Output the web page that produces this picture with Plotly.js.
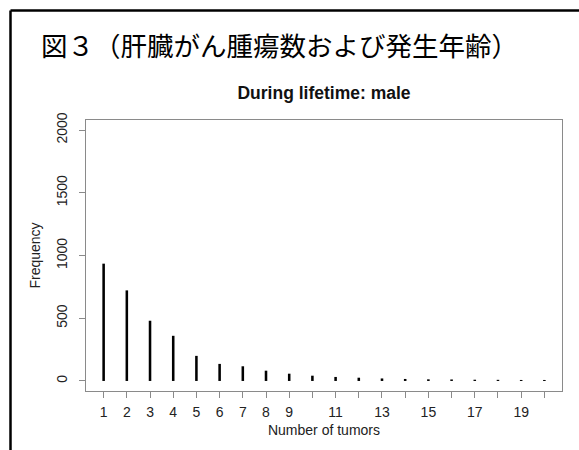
<!DOCTYPE html>
<html>
<head>
<meta charset="utf-8">
<script src="https://cdn.plot.ly/plotly-3.0.1.min.js"></script>
<style>html,body{margin:0;padding:0;background:#fff;}#chart{width:579px;height:450px;}</style>
</head>
<body>
<div id="chart"></div>
<script>
const numTumors = [1,2,3,4,5,6,7,8,9,10,11,12,13,14,15,16,17,18,19,20];
const frequency = [935,722,480,360,200,136,117,82,58,42,32,26,20,16,13,12,10,9,8,8];
const xTickVals = [1,2,3,4,5,6,7,8,9,10,11,12,13,14,15,16,17,18,19,20];
const xTickText = ["1","2","3","4","5","6","7","8","9","","11","","13","","15","","17","","19",""];
const yTickVals = [0,500,1000,1500,2000];
const headerText = "図３（肝臓がん腫瘍数および発生年齢）";
const plotTitle = "During lifetime: male";
const xLabel = "Number of tumors";
const yLabel = "Frequency";

const FONT = "Liberation Sans, Arial, sans-serif";

const trace = {
  type: "bar",
  x: numTumors,
  y: frequency,
  width: 0.11,
  marker: {color: "#000", line: {width: 0}},
  hoverinfo: "skip"
};

const axisCommon = {
  showline: true, mirror: true, linecolor: "#8a8a8a", linewidth: 1.3,
  ticks: "outside", ticklen: 6, tickwidth: 1, tickcolor: "#8a8a8a",
  showgrid: false, zeroline: false,
  tickfont: {family: FONT, size: 14, color: "#222"}
};

const layout = {
  width: 579, height: 450,
  paper_bgcolor: "#fff", plot_bgcolor: "#fff",
  margin: {l: 86, r: 17, t: 120, b: 59},
  showlegend: false,
  title: {
    text: "<b>" + plotTitle + "</b>",
    font: {family: FONT, size: 17.5, color: "#111"},
    x: 0.5, xref: "paper", xanchor: "center",
    y: 1 - 93 / 450, yref: "container", yanchor: "middle"
  },
  xaxis: Object.assign({}, axisCommon, {
    range: [0.24, 20.76],
    tickmode: "array", tickvals: xTickVals, ticktext: xTickText, tickangle: 0,
    ticklabelstandoff: 2,
    title: {text: xLabel, font: {family: FONT, size: 14, color: "#222"}, standoff: 6}
  }),
  yaxis: Object.assign({}, axisCommon, {
    range: [-80, 2080],
    tickmode: "array", tickvals: yTickVals, ticktext: yTickVals.map(String), tickangle: -90,
    ticklabelstandoff: 6,
    title: {text: yLabel, font: {family: FONT, size: 14, color: "#222"}, standoff: 10}
  }),
  annotations: [{
    text: headerText, xref: "paper", yref: "paper",
    x: (39 - 86) / 476, xanchor: "left",
    y: (391 - 44) / 271, yanchor: "middle",
    showarrow: false,
    font: {family: "Noto Sans CJK JP", size: 26.5, color: "#000"}
  }],
  shapes: [
    {type: "line", xref: "paper", yref: "paper", x0: (10.5 - 86) / 476, x1: (600 - 86) / 476, y0: (391 - 10.5) / 271, y1: (391 - 10.5) / 271, line: {color: "#000", width: 2.5}},
    {type: "line", xref: "paper", yref: "paper", x0: (10.5 - 86) / 476, x1: (10.5 - 86) / 476, y0: (391 - 10.5) / 271, y1: (391 - 470) / 271, line: {color: "#000", width: 2.5}}
  ]
};

Plotly.newPlot("chart", [trace], layout, {displayModeBar: false, staticPlot: true});
</script>
</body>
</html>
